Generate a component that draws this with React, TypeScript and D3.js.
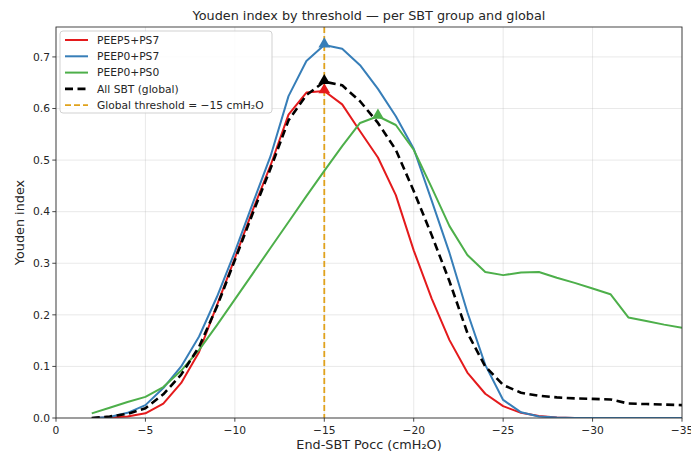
import React from "react";
import * as d3 from "d3";

const thresholds = [-2,-3,-4,-5,-6,-7,-8,-9,-10,-11,-12,-13,-14,-15,-16,-17,-18,-19,-20,-21,-22,-23,-24,-25,-26,-27,-28,-29,-30,-31,-32,-33,-34,-35];
const peep5ps7 = [0,0.001,0.003,0.009,0.028,0.068,0.128,0.219,0.31,0.403,0.49,0.588,0.631,0.634,0.608,0.556,0.505,0.432,0.325,0.232,0.151,0.088,0.047,0.023,0.01,0.004,0.001,0,0,0,0,0,0,0];
const peep0ps7 = [0,0.002,0.01,0.025,0.058,0.1,0.158,0.235,0.322,0.416,0.508,0.624,0.692,0.723,0.716,0.684,0.638,0.585,0.522,0.422,0.32,0.205,0.103,0.035,0.011,0.003,0.001,0,0,0,0,0,0,0];
const peep0ps0 = [0.009,0.02,0.031,0.041,0.06,0.092,0.132,0.18,0.23,0.28,0.33,0.38,0.43,0.479,0.527,0.572,0.585,0.568,0.52,0.447,0.372,0.316,0.283,0.277,0.282,0.283,0.272,0.262,0.251,0.24,0.195,0.188,0.181,0.175];
const allSbt = [0,0.003,0.008,0.019,0.046,0.084,0.138,0.216,0.306,0.397,0.484,0.577,0.626,0.652,0.645,0.614,0.572,0.52,0.44,0.355,0.265,0.165,0.1,0.064,0.049,0.043,0.04,0.038,0.037,0.036,0.028,0.027,0.026,0.025];

const xTicks = [0,-5,-10,-15,-20,-25,-30,-35];
const yTicks = [0,0.1,0.2,0.3,0.4,0.5,0.6,0.7];
const globalThreshold = -15;

const seriesList = [
  { name: "PEEP5+PS7", values: peep5ps7, color: "#e41a1c", dash: null as string | null, width: 2 },
  { name: "PEEP0+PS7", values: peep0ps7, color: "#377eb8", dash: null, width: 2 },
  { name: "PEEP0+PS0", values: peep0ps0, color: "#4daf4a", dash: null, width: 2 },
  { name: "All SBT (global)", values: allSbt, color: "#000000", dash: "8,4.5", width: 2.6 },
];

const W = 691, H = 459;
const L = 56, R = 682, T = 27, B = 418;
const FONT = "DejaVu Sans, sans-serif";
const fmtMinus = (v: number) => (v < 0 ? "\u2212" + Math.abs(v) : String(v));

export default function App() {
  const x = d3.scaleLinear().domain([0, -35]).range([L, R]);
  const y = d3.scaleLinear().domain([0, 0.758]).range([B, T]);
  const line = d3.line<[number, number]>().x(d => x(d[0])).y(d => y(d[1]));
  const tri = d3.symbol().type(d3.symbolTriangle).size(60)();

  const legendItems = [
    ...seriesList.map(s => ({ name: s.name, color: s.color, dash: s.dash, width: s.width })),
    { name: "Global threshold = \u221215 cmH\u2082O", color: "#e0a21c", dash: "6,3", width: 1.8 },
  ];

  return (
    <svg width={W} height={H} style={{ position: "absolute", left: 0, top: 0, background: "#fff" }} fontFamily={FONT}>
      <rect x={0} y={0} width={W} height={H} fill="#fff" />
      <defs>
        <clipPath id="plotclip"><rect x={L} y={T} width={R - L} height={B - T} /></clipPath>
      </defs>
      {/* grid */}
      {xTicks.map(t => (
        <line key={"gx" + t} x1={x(t)} x2={x(t)} y1={T} y2={B} stroke="#b0b0b0" strokeOpacity={0.35} strokeWidth={0.8} />
      ))}
      {yTicks.map(t => (
        <line key={"gy" + t} x1={L} x2={R} y1={y(t)} y2={y(t)} stroke="#b0b0b0" strokeOpacity={0.35} strokeWidth={0.8} />
      ))}
      <g clipPath="url(#plotclip)">
        <line x1={x(globalThreshold)} x2={x(globalThreshold)} y1={T} y2={B} stroke="#e0a21c" strokeWidth={1.8} strokeDasharray="6,3" />
        {seriesList.map(s => (
          <path key={s.name} d={line(thresholds.map((t, i) => [t, s.values[i]] as [number, number])) || ""}
            fill="none" stroke={s.color} strokeWidth={s.width} strokeDasharray={s.dash || undefined} strokeLinejoin="round" />
        ))}
      </g>
      {seriesList.map(s => {
        const i = d3.maxIndex(s.values);
        return <path key={"m" + s.name} d={tri || ""} transform={`translate(${x(thresholds[i])},${y(s.values[i]) - 1})`} fill={s.color} />;
      })}
      {/* spines */}
      <rect x={L} y={T} width={R - L} height={B - T} fill="none" stroke="#333" strokeWidth={0.9} />
      {/* x ticks */}
      {xTicks.map(t => (
        <g key={"xt" + t}>
          <line x1={x(t)} x2={x(t)} y1={B} y2={B + 3.7} stroke="#333" strokeWidth={0.9} />
          <text x={x(t)} y={B + 16} textAnchor="middle" fontSize={10.7} fill="#262626">{fmtMinus(t)}</text>
        </g>
      ))}
      {yTicks.map(t => (
        <g key={"yt" + t}>
          <line x1={L - 3.7} x2={L} y1={y(t)} y2={y(t)} stroke="#333" strokeWidth={0.9} />
          <text x={L - 6} y={y(t) + 3.8} textAnchor="end" fontSize={10.7} fill="#262626">{t.toFixed(1)}</text>
        </g>
      ))}
      <text x={(L + R) / 2} y={449} textAnchor="middle" fontSize={12.8} fill="#262626">End-SBT Pocc (cmH₂O)</text>
      <text transform={`translate(24,${(T + B) / 2}) rotate(-90)`} textAnchor="middle" fontSize={12.8} fill="#262626">Youden index</text>
      <text x={(L + R) / 2} y={20} textAnchor="middle" fontSize={12.8} fill="#262626">Youden index by threshold — per SBT group and global</text>
      {/* legend */}
      <g>
        <rect x={60} y={31} width={212} height={82} rx={3} fill="#fff" fillOpacity={0.85} stroke="#cccccc" strokeWidth={0.9} />
        {legendItems.map((it, i) => (
          <g key={"lg" + i} transform={`translate(0,${40 + i * 16.3})`}>
            <line x1={65} x2={88} y1={0} y2={0} stroke={it.color} strokeWidth={it.width} strokeDasharray={it.dash || undefined} />
            <text x={97} y={3.8} fontSize={10.7} fill="#262626">{it.name}</text>
          </g>
        ))}
      </g>
    </svg>
  );
}
